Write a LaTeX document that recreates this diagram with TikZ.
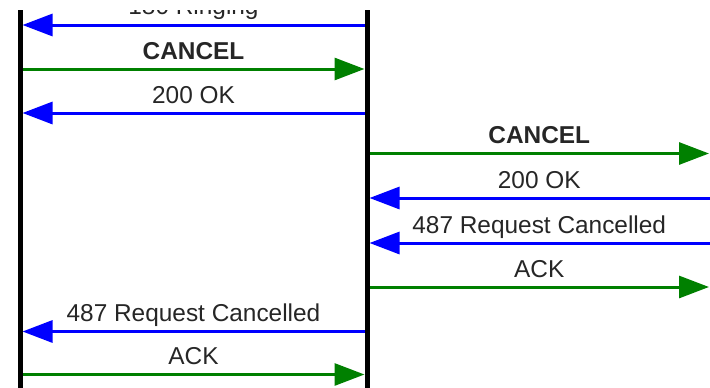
\documentclass[tikz,border=0pt]{standalone}
\usepackage{fontspec}
\setmainfont{Liberation Sans}
\usetikzlibrary{arrows.meta,calc}
\definecolor{msgblue}{RGB}{0,0,255}
\definecolor{msggreen}{RGB}{0,128,0}
\definecolor{txt}{RGB}{38,38,38}
\begin{document}
\begin{tikzpicture}[x=1pt,y=-1pt,
  lifeline/.style={line width=5pt,black},
  msg/.style={line width=3pt,-{Triangle[length=30pt,width=22pt]},shorten >=2.5pt},
  request/.style={msg,msggreen},
  response/.style={msg,msgblue},
  msglabel/.style={font=\fontsize{24.4}{29}\selectfont,text=txt,anchor=base,inner sep=0pt,yshift=10pt},
  boldlabel/.style={msglabel,font=\fontsize{24.4}{29}\selectfont\bfseries}
]
\useasboundingbox (0,0) rectangle (710,388);
% visible window of the flow (blank strip along the top)
\clip (0,10.5) rectangle (710,388);

% lifeline x positions
\def\xa{20}
\def\xb{367}
\def\xc{711.5}

% one coordinate on each lifeline per message row
\foreach \i/\y in {1/25,2/69,3/113,4/153.5,5/198,6/243,7/287,8/331.5,9/374.5}{
  \coordinate (a\i) at (\xa,\y);
  \coordinate (b\i) at (\xb,\y);
  \coordinate (c\i) at (\xc,\y);
}

% messages between the first two lifelines
\draw[response] (b1) -- (a1) node[msglabel,pos=0.5] (t1) {180 Ringing};
\draw[request]  (a2) -- (b2) node[boldlabel,pos=0.5] (t2) {CANCEL};
\draw[response] (b3) -- (a3) node[msglabel,pos=0.5] (t3) {200 OK};

% messages between the second and third lifelines
\draw[request]  (b4) -- (c4) node[boldlabel,pos=0.5] (t4) {CANCEL};
\draw[response] (c5) -- (b5) node[msglabel,pos=0.5] (t5) {200 OK};
\draw[response] (c6) -- (b6) node[msglabel,pos=0.5] (t6) {487 Request Cancelled};
\draw[request]  (b7) -- (c7) node[msglabel,pos=0.5] (t7) {ACK};

% final exchange back on the first pair
\draw[response] (b8) -- (a8) node[msglabel,pos=0.5] (t8) {487 Request Cancelled};
\draw[request]  (a9) -- (b9) node[msglabel,pos=0.5] (t9) {ACK};

% lifelines
\coordinate (atop) at (\xa,-5);
\coordinate (abot) at (\xa,395);
\coordinate (btop) at (\xb,-5);
\coordinate (bbot) at (\xb,395);
\draw[lifeline] (atop) -- (abot);
\draw[lifeline] (btop) -- (bbot);
\end{tikzpicture}
\end{document}
